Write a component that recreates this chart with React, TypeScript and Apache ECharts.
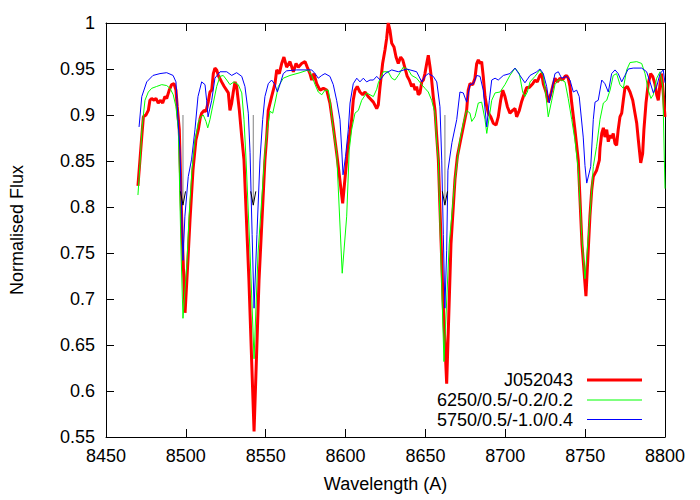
import React, { useEffect, useRef } from "react";
import * as echarts from "echarts";

const FONT = '"Liberation Sans", Arial, Helvetica, sans-serif';

const xTicks = { min: 8450, max: 8800, interval: 50 };
const yTicks = { min: 0.55, max: 1, interval: 0.05 };

const legendNames = ["J052043", "6250/0.5/-0.2/0.2", "5750/0.5/-1.0/0.4"];
const seriesColors = ["#ff0000", "#00ff00", "#0000ff"];
const seriesWidths = [3, 1, 1];

const j052043: [number, number][] = [
  [8470.0, 0.823], [8471.3, 0.852], [8472.5, 0.879], [8473.4, 0.898], [8475.0, 0.9], [8476.5, 0.905],
  [8477.5, 0.916], [8478.6, 0.918], [8480.1, 0.916], [8481.3, 0.918], [8482.7, 0.913], [8484.2, 0.916],
  [8485.5, 0.913], [8486.9, 0.92], [8488.0, 0.918], [8489.6, 0.927], [8491.1, 0.933], [8492.6, 0.934],
  [8493.8, 0.927], [8494.6, 0.909], [8495.9, 0.884], [8497.5, 0.78], [8499.5, 0.685], [8501.3, 0.742],
  [8502.6, 0.786], [8504.5, 0.841], [8506.3, 0.873], [8507.8, 0.884], [8508.9, 0.896], [8509.9, 0.902],
  [8511.4, 0.905], [8512.6, 0.904], [8514.0, 0.914], [8515.1, 0.925], [8516.2, 0.927], [8517.2, 0.945],
  [8518.2, 0.951], [8519.3, 0.949], [8520.3, 0.943], [8522.4, 0.936], [8524.0, 0.931], [8526.6, 0.924],
  [8527.6, 0.905], [8528.7, 0.913], [8529.7, 0.925], [8530.8, 0.936], [8531.8, 0.931], [8533.5, 0.905],
  [8535.0, 0.876], [8536.4, 0.851], [8539.5, 0.72], [8542.7, 0.556], [8545.8, 0.72], [8549.5, 0.851],
  [8550.6, 0.876], [8551.6, 0.905], [8553.7, 0.92], [8555.8, 0.934], [8556.9, 0.949], [8558.5, 0.945],
  [8560.0, 0.956], [8561.4, 0.963], [8563.1, 0.952], [8565.2, 0.958], [8567.3, 0.947], [8569.0, 0.956],
  [8570.4, 0.952], [8572.5, 0.956], [8574.6, 0.958], [8576.0, 0.952], [8577.7, 0.945], [8578.8, 0.938],
  [8580.2, 0.945], [8581.9, 0.934], [8584.0, 0.927], [8586.1, 0.929], [8588.2, 0.927], [8590.2, 0.913],
  [8592.3, 0.887], [8594.4, 0.859], [8598.2, 0.804], [8601.4, 0.864], [8603.8, 0.895], [8604.8, 0.916],
  [8605.9, 0.927], [8607.3, 0.931], [8609.0, 0.925], [8610.7, 0.922], [8612.2, 0.925], [8614.2, 0.92],
  [8615.3, 0.918], [8617.4, 0.914], [8619.5, 0.907], [8620.5, 0.911], [8621.6, 0.931], [8623.2, 0.956],
  [8624.7, 0.971], [8625.7, 0.983], [8626.7, 1.0], [8627.8, 0.992], [8628.9, 0.978], [8630.3, 0.974],
  [8631.6, 0.963], [8633.0, 0.956], [8634.5, 0.963], [8635.8, 0.96], [8637.2, 0.951], [8638.6, 0.942],
  [8639.9, 0.938], [8641.4, 0.931], [8642.4, 0.934], [8643.5, 0.927], [8644.5, 0.931], [8645.5, 0.922],
  [8646.6, 0.924], [8647.7, 0.936], [8648.7, 0.938], [8649.7, 0.945], [8650.8, 0.956], [8651.8, 0.965],
  [8652.9, 0.952], [8653.9, 0.938], [8654.9, 0.92], [8656.0, 0.905], [8657.1, 0.876], [8658.1, 0.851],
  [8661.0, 0.7], [8663.3, 0.608], [8666.0, 0.76], [8668.5, 0.83], [8670.0, 0.855], [8671.6, 0.869],
  [8673.7, 0.887], [8675.8, 0.905], [8676.8, 0.927], [8677.9, 0.934], [8679.6, 0.933], [8681.0, 0.94],
  [8682.1, 0.956], [8683.1, 0.96], [8684.2, 0.956], [8685.2, 0.958], [8686.2, 0.942], [8687.3, 0.92],
  [8688.4, 0.909], [8689.4, 0.902], [8690.9, 0.898], [8692.5, 0.891], [8694.2, 0.889], [8695.6, 0.898],
  [8697.1, 0.916], [8698.4, 0.927], [8699.8, 0.92], [8701.3, 0.909], [8702.9, 0.902], [8704.6, 0.905],
  [8706.1, 0.907], [8707.1, 0.898], [8708.8, 0.905], [8710.3, 0.915], [8711.7, 0.922], [8713.4, 0.93],
  [8715.0, 0.93], [8717.2, 0.934], [8718.6, 0.938], [8720.0, 0.936], [8721.7, 0.943], [8722.8, 0.945],
  [8723.8, 0.934], [8725.5, 0.925], [8726.9, 0.914], [8728.4, 0.922], [8729.7, 0.931], [8731.1, 0.94],
  [8732.6, 0.936], [8734.3, 0.94], [8735.9, 0.938], [8737.4, 0.942], [8738.4, 0.943], [8739.4, 0.94],
  [8740.5, 0.931], [8741.6, 0.913], [8743.6, 0.884], [8745.7, 0.851], [8748.0, 0.76], [8750.5, 0.703],
  [8753.0, 0.79], [8754.1, 0.818], [8755.1, 0.833], [8757.2, 0.84], [8758.9, 0.851], [8759.3, 0.864],
  [8760.4, 0.88], [8761.4, 0.886], [8762.4, 0.876], [8763.5, 0.884], [8764.5, 0.871], [8765.6, 0.878],
  [8766.6, 0.875], [8767.6, 0.88], [8768.7, 0.869], [8769.7, 0.867], [8770.7, 0.884], [8771.8, 0.898],
  [8772.9, 0.902], [8773.9, 0.916], [8774.9, 0.929], [8776.4, 0.931], [8778.1, 0.925], [8779.8, 0.916],
  [8781.2, 0.902], [8782.3, 0.891], [8783.3, 0.873], [8784.8, 0.848], [8786.0, 0.858], [8786.8, 0.884],
  [8788.1, 0.913], [8789.5, 0.934], [8791.0, 0.945], [8792.3, 0.942], [8793.7, 0.934], [8794.8, 0.922],
  [8795.8, 0.916], [8796.9, 0.934], [8797.9, 0.945], [8798.9, 0.924], [8800.0, 0.898],
];

const model6250: [number, number][] = [
  [8470.0, 0.813], [8471.3, 0.847], [8472.5, 0.885], [8474.4, 0.916], [8476.5, 0.925], [8478.6, 0.929],
  [8481.7, 0.931], [8484.9, 0.933], [8488.0, 0.932], [8490.1, 0.929], [8492.1, 0.922], [8493.8, 0.909],
  [8495.3, 0.884], [8497.0, 0.75], [8498.2, 0.679], [8500.7, 0.74], [8502.0, 0.79], [8503.8, 0.84],
  [8505.7, 0.872], [8507.8, 0.892], [8509.3, 0.898], [8510.9, 0.9], [8512.6, 0.893], [8513.7, 0.886],
  [8515.1, 0.895], [8517.2, 0.913], [8519.3, 0.931], [8521.4, 0.942], [8523.4, 0.943], [8525.6, 0.938],
  [8527.6, 0.933], [8530.1, 0.936], [8532.8, 0.933], [8535.0, 0.924], [8536.4, 0.895], [8537.7, 0.851],
  [8540.2, 0.75], [8542.7, 0.635], [8545.2, 0.75], [8549.5, 0.859], [8551.0, 0.884], [8552.7, 0.904],
  [8554.4, 0.902], [8555.8, 0.913], [8557.9, 0.931], [8561.0, 0.94], [8565.2, 0.943], [8571.5, 0.946],
  [8576.7, 0.949], [8578.8, 0.943], [8580.9, 0.933], [8582.9, 0.925], [8585.1, 0.922], [8587.1, 0.927],
  [8589.2, 0.927], [8590.2, 0.916], [8592.3, 0.884], [8594.4, 0.859], [8597.9, 0.728], [8600.7, 0.79],
  [8602.3, 0.862], [8603.8, 0.884], [8605.9, 0.902], [8608.0, 0.905], [8610.1, 0.916], [8613.2, 0.924],
  [8615.3, 0.922], [8617.4, 0.92], [8619.5, 0.928], [8620.5, 0.935], [8623.6, 0.947], [8626.7, 0.947],
  [8628.9, 0.94], [8630.9, 0.938], [8633.0, 0.943], [8636.1, 0.952], [8639.3, 0.949], [8641.4, 0.943],
  [8644.5, 0.94], [8647.7, 0.933], [8649.7, 0.929], [8651.8, 0.925], [8653.9, 0.916], [8656.0, 0.902],
  [8657.1, 0.869], [8658.1, 0.851], [8659.6, 0.75], [8661.6, 0.632], [8664.9, 0.76], [8668.5, 0.83],
  [8670.0, 0.851], [8671.6, 0.873], [8673.7, 0.891], [8675.8, 0.905], [8677.9, 0.902], [8679.0, 0.893],
  [8681.0, 0.898], [8683.1, 0.913], [8685.2, 0.914], [8687.3, 0.895], [8688.4, 0.88], [8690.0, 0.898],
  [8691.5, 0.916], [8693.6, 0.924], [8696.7, 0.925], [8699.8, 0.933], [8702.9, 0.943], [8706.1, 0.951],
  [8708.8, 0.945], [8710.9, 0.925], [8712.3, 0.92], [8713.8, 0.925], [8715.5, 0.936], [8718.6, 0.942],
  [8721.7, 0.949], [8723.8, 0.943], [8725.5, 0.92], [8726.9, 0.898], [8729.1, 0.916], [8731.1, 0.933],
  [8733.2, 0.938], [8735.3, 0.938], [8737.4, 0.936], [8739.4, 0.918], [8741.6, 0.895], [8743.6, 0.873],
  [8745.7, 0.84], [8747.8, 0.77], [8749.9, 0.722], [8753.0, 0.79], [8755.1, 0.844], [8757.2, 0.866],
  [8759.3, 0.895], [8761.4, 0.913], [8763.5, 0.916], [8765.6, 0.927], [8767.6, 0.943], [8769.7, 0.945],
  [8771.8, 0.933], [8773.9, 0.929], [8776.0, 0.949], [8778.1, 0.957], [8782.3, 0.958], [8785.4, 0.956],
  [8787.5, 0.945], [8789.5, 0.927], [8791.2, 0.918], [8792.7, 0.922], [8794.8, 0.94], [8796.9, 0.947],
  [8798.6, 0.931], [8799.6, 0.851], [8800.0, 0.82],
];

const model5750: [number, number][] = [
  [8470.7, 0.887], [8472.4, 0.92], [8475.5, 0.936], [8479.4, 0.943], [8483.8, 0.945], [8488.0, 0.946],
  [8492.0, 0.943], [8493.8, 0.936], [8495.1, 0.895], [8496.3, 0.862], [8497.3, 0.8], [8498.2, 0.742],
  [8499.4, 0.79], [8501.5, 0.833], [8503.6, 0.852], [8505.7, 0.884], [8507.6, 0.92], [8509.9, 0.936],
  [8512.0, 0.933], [8513.0, 0.916], [8513.9, 0.898], [8516.2, 0.916], [8518.2, 0.94], [8521.4, 0.947],
  [8525.6, 0.947], [8528.7, 0.943], [8531.8, 0.946], [8535.0, 0.942], [8537.0, 0.931], [8539.1, 0.902],
  [8540.2, 0.859], [8541.5, 0.77], [8542.7, 0.69], [8544.5, 0.77], [8546.4, 0.851], [8548.1, 0.895],
  [8549.5, 0.92], [8551.6, 0.934], [8553.7, 0.938], [8555.8, 0.933], [8557.3, 0.925], [8558.9, 0.933],
  [8561.0, 0.945], [8563.1, 0.948], [8569.4, 0.949], [8575.7, 0.949], [8578.8, 0.949], [8580.9, 0.945],
  [8582.9, 0.94], [8585.1, 0.943], [8587.1, 0.945], [8590.2, 0.942], [8592.3, 0.933], [8594.4, 0.916],
  [8596.5, 0.895], [8597.6, 0.862], [8598.4, 0.835], [8600.0, 0.855], [8601.7, 0.884], [8602.8, 0.913],
  [8604.8, 0.934], [8607.0, 0.94], [8609.0, 0.936], [8611.1, 0.94], [8613.2, 0.936], [8615.3, 0.938],
  [8617.4, 0.938], [8619.5, 0.942], [8621.6, 0.938], [8624.7, 0.945], [8628.9, 0.949], [8633.0, 0.947],
  [8638.3, 0.95], [8644.5, 0.947], [8647.7, 0.936], [8649.7, 0.942], [8651.8, 0.945], [8654.9, 0.942],
  [8657.1, 0.936], [8659.1, 0.909], [8660.2, 0.851], [8661.2, 0.77], [8662.2, 0.69], [8663.3, 0.753],
  [8664.1, 0.84], [8666.6, 0.87], [8669.6, 0.895], [8671.6, 0.925], [8673.7, 0.924], [8675.8, 0.914],
  [8677.9, 0.933], [8680.0, 0.934], [8682.1, 0.943], [8684.2, 0.942], [8686.2, 0.927], [8688.4, 0.887],
  [8690.0, 0.916], [8691.5, 0.938], [8693.6, 0.94], [8695.6, 0.938], [8698.8, 0.943], [8702.9, 0.945],
  [8706.1, 0.951], [8709.2, 0.943], [8712.3, 0.935], [8715.5, 0.943], [8719.7, 0.947], [8721.7, 0.95],
  [8723.8, 0.945], [8725.9, 0.931], [8727.5, 0.913], [8729.1, 0.927], [8731.1, 0.945], [8733.2, 0.947],
  [8735.3, 0.94], [8738.4, 0.942], [8740.5, 0.938], [8742.6, 0.925], [8744.7, 0.927], [8746.3, 0.92],
  [8748.8, 0.876], [8749.9, 0.845], [8751.0, 0.826], [8753.5, 0.844], [8755.1, 0.895], [8756.2, 0.914],
  [8758.2, 0.916], [8760.4, 0.938], [8762.4, 0.934], [8764.5, 0.925], [8766.6, 0.945], [8768.7, 0.949],
  [8770.7, 0.945], [8772.9, 0.936], [8774.9, 0.943], [8777.0, 0.95], [8780.1, 0.951], [8785.4, 0.951],
  [8788.5, 0.947], [8790.6, 0.936], [8792.7, 0.924], [8794.8, 0.931], [8796.9, 0.945], [8798.9, 0.949],
  [8800.0, 0.935],
];

// Ca II triplet markers (grey vertical ticks) and the small black line cores
const caLineWaves = [8498.2, 8542.2, 8662.2];
const caLineTop = 0.9;
const caLineBottom = 0.806;
const blackCores: [number, number][][] = [
  [[8496.6, 0.817], [8498.2, 0.802], [8499.8, 0.817]],
  [[8540.6, 0.817], [8542.2, 0.802], [8543.8, 0.817]],
  [[8660.6, 0.817], [8662.2, 0.802], [8663.8, 0.817]],
];

export default function App() {
  const ref = useRef<HTMLDivElement>(null);
  useEffect(() => {
    if (!ref.current) return;
    document.body.style.margin = "0";
    const chart = echarts.init(ref.current, null, { renderer: "svg" });
    const textStyle = { color: "#000", fontSize: 18, fontFamily: FONT };
    const axisCommon = {
      type: "value" as const,
      axisLine: { show: true, onZero: false, lineStyle: { color: "#000", width: 1 } },
      axisTick: { show: true, inside: true, length: 8, lineStyle: { color: "#000", width: 1 } },
      splitLine: { show: false },
    };
    const spectra = [j052043, model6250, model5750];
    const series: any[] = spectra.map((d, i) => ({
      name: legendNames[i],
      type: "line",
      data: d,
      showSymbol: false,
      symbol: "none",
      clip: true,
      lineStyle: { color: seriesColors[i], width: seriesWidths[i] },
      itemStyle: { color: seriesColors[i] },
      z: 2 + i,
    }));
    caLineWaves.forEach((w) => {
      series.push({
        type: "line",
        data: [[w, caLineTop], [w, caLineBottom]],
        showSymbol: false,
        symbol: "none",
        lineStyle: { color: "#808080", width: 1 },
        z: 6,
      });
    });
    blackCores.forEach((d) => {
      series.push({
        type: "line",
        data: d,
        showSymbol: false,
        symbol: "none",
        lineStyle: { color: "#000", width: 1 },
        z: 6,
      });
    });
    const legendTop = [380, 400, 419.5];
    const graphic: any[] = [];
    legendNames.forEach((n, i) => {
      graphic.push({
        type: "text",
        x: 573,
        y: legendTop[i],
        style: { text: n, align: "right", verticalAlign: "middle", fill: "#000", fontSize: 18, fontFamily: FONT },
        z: 20,
      });
      graphic.push({
        type: "line",
        shape: { x1: 587, y1: legendTop[i], x2: 642, y2: legendTop[i] },
        style: { stroke: seriesColors[i], lineWidth: seriesWidths[i] },
        z: 20,
      });
    });
    chart.setOption({
      animation: false,
      backgroundColor: "#fff",
      grid: { left: 106, right: 35, top: 23, bottom: 63, containLabel: false },
      xAxis: [
        {
          ...axisCommon,
          position: "bottom",
          min: xTicks.min,
          max: xTicks.max,
          interval: xTicks.interval,
          axisLabel: { ...textStyle, margin: 10, formatter: (v: number) => String(v) },
          name: "Wavelength (A)",
          nameLocation: "middle",
          nameGap: 38,
          nameTextStyle: textStyle,
        },
        {
          ...axisCommon,
          position: "top",
          min: xTicks.min,
          max: xTicks.max,
          interval: xTicks.interval,
          axisLabel: { show: false },
        },
      ],
      yAxis: [
        {
          ...axisCommon,
          position: "left",
          min: yTicks.min,
          max: yTicks.max,
          interval: yTicks.interval,
          axisLabel: { ...textStyle, margin: 11 },
          name: "Normalised Flux",
          nameLocation: "middle",
          nameGap: 80,
          nameRotate: 90,
          nameTextStyle: textStyle,
        },
        {
          ...axisCommon,
          position: "right",
          min: yTicks.min,
          max: yTicks.max,
          interval: yTicks.interval,
          axisLabel: { show: false },
        },
      ],
      series,
      graphic,
    });
    return () => chart.dispose();
  }, []);
  return <div ref={ref} style={{ width: 700, height: 500 }} />;
}
